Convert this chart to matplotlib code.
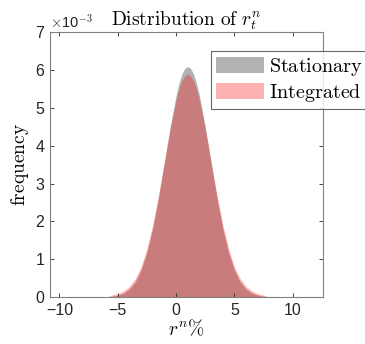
import numpy as np
import matplotlib
matplotlib.use("Agg")
import matplotlib.pyplot as plt
from matplotlib.patches import Patch

plt.rcParams['mathtext.fontset'] = 'cm'
plt.rcParams['font.family'] = ['Liberation Sans', 'DejaVu Sans']

# histogram outline (x in %, frequency in 1e-3)
x_pts = [-6.0, -5.5, -5.0, -4.5, -4.0, -3.5, -3.0, -2.5, -2.0, -1.5, -1.0, -0.5,
         0.0, 0.25, 0.5, 0.75, 1.0, 1.25, 1.5, 1.75, 2.0, 2.5, 3.0, 3.5, 4.0, 4.5,
         5.0, 5.5, 6.0, 6.5, 7.0, 7.5, 8.0]
stationary = [0.0, 0.02, 0.05, 0.10, 0.21, 0.40, 0.71, 1.18, 1.82, 2.64, 3.57, 4.51,
              5.33, 5.66, 5.90, 6.05, 6.10, 6.05, 5.90, 5.66, 5.33, 4.51, 3.57, 2.64,
              1.82, 1.18, 0.71, 0.40, 0.21, 0.10, 0.05, 0.02, 0.0]
integrated = [0.0, 0.05, 0.09, 0.16, 0.28, 0.48, 0.80, 1.28, 1.92, 2.70, 3.58, 4.45,
              5.21, 5.50, 5.72, 5.85, 5.90, 5.85, 5.72, 5.50, 5.21, 4.45, 3.58, 2.70,
              1.92, 1.28, 0.80, 0.48, 0.28, 0.16, 0.09, 0.05, 0.0]
labels = ['Stationary', 'Integrated']

fig = plt.figure(figsize=(3.65, 3.44), dpi=100)
ax = fig.add_axes([0.137, 0.1366, 0.7466, 0.769])

gray_c = (0.5, 0.5, 0.5)
red_c = (1.0, 0.0, 0.0)
ax.fill_between(x_pts, stationary, color=gray_c, alpha=0.6, lw=0)
ax.fill_between(x_pts, integrated, color=red_c, alpha=0.3, lw=0)

ax.set_xlim(-10.8, 12.55)
ax.set_ylim(0, 7)
ax.set_xticks([-10, -5, 0, 5, 10])
ax.set_yticks(range(0, 8))
ax.tick_params(direction='in', top=True, right=True, length=3, width=0.6,
               labelsize=11.5, colors='#262626', pad=4)
for s in ax.spines.values():
    s.set_color('#808080')
    s.set_linewidth(0.8)

ax.set_title(r'$\mathrm{Distribution\ of\ }r_t^n$', fontsize=14, pad=5)
ax.set_xlabel(r'$r^{n}\%$', fontsize=14, labelpad=1)
ax.set_ylabel(r'$\mathrm{frequency}$', fontsize=14, labelpad=3)
ax.text(0.0, 1.005, r'$\times$10$^{-3}$', transform=ax.transAxes, fontsize=10.5,
        color='#262626', va='bottom', ha='left')

handles = [Patch(facecolor=gray_c, alpha=0.6, lw=0),
           Patch(facecolor=red_c, alpha=0.3, lw=0)]
leg = fig.legend(handles, [r'$\mathrm{' + s + '}$' for s in labels],
                 loc='upper left', bbox_to_anchor=(0.578, 0.853), fontsize=14.5,
                 frameon=True, fancybox=False, handlelength=2.4, handleheight=0.85,
                 handletextpad=0.25, borderpad=0.25, labelspacing=0.2,
                 borderaxespad=0)
leg.get_frame().set_edgecolor('#404040')
leg.get_frame().set_linewidth(0.8)

fig.savefig('out.png', dpi=100)
